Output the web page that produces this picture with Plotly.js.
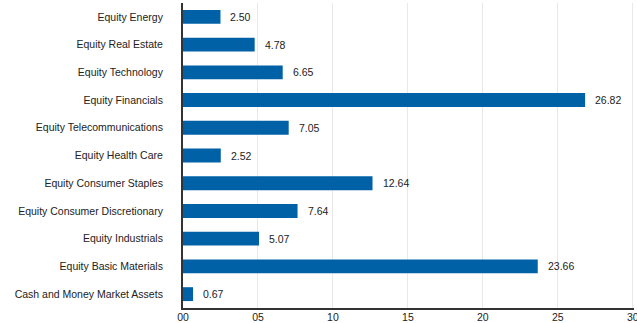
<!DOCTYPE html>
<html>
<head>
<meta charset="utf-8">
<script src="https://cdn.plot.ly/plotly-3.0.1.min.js"></script>
<style>html,body{margin:0;padding:0;background:#fff;}#chart{width:637px;height:323px;}</style>
</head>
<body>
<div id="chart"></div>
<script>
var categories = [
  "Equity Energy",
  "Equity Real Estate",
  "Equity Technology",
  "Equity Financials",
  "Equity Telecommunications",
  "Equity Health Care",
  "Equity Consumer Staples",
  "Equity Consumer Discretionary",
  "Equity Industrials",
  "Equity Basic Materials",
  "Cash and Money Market Assets"
];
var values = [2.50, 4.78, 6.65, 26.82, 7.05, 2.52, 12.64, 7.64, 5.07, 23.66, 0.67];
var tickValues = [0, 5, 10, 15, 20, 25, 30];
var tickLabels = ["00", "05", "10", "15", "20", "25", "30"];

var font = {family: "Liberation Sans, Arial, sans-serif", size: 10.5, color: "#222"};

var trace = {
  type: "bar",
  orientation: "h",
  x: values,
  y: categories,
  marker: {color: "#0061A7"},
  hoverinfo: "none"
};

var annotations = values.map(function (v, i) {
  return {
    x: v, y: categories[i], xref: "x", yref: "y",
    text: v.toFixed(2), showarrow: false,
    xanchor: "left", xshift: 8,
    font: font
  };
});

var layout = {
  width: 637, height: 323,
  margin: {l: 183, r: 3, t: 3, b: 15, pad: 0},
  paper_bgcolor: "#fff", plot_bgcolor: "#fff",
  bargap: 0.5,
  showlegend: false,
  font: font,
  xaxis: {
    range: [0, 30.08],
    tickvals: tickValues, ticktext: tickLabels,
    showgrid: true, gridcolor: "#e8e8e8", gridwidth: 1,
    zeroline: false,
    showline: true, linecolor: "#333", linewidth: 2,
    ticks: "", tickfont: font,
    ticklabelstandoff: -2,
    ticklabeloverflow: "allow",
    automargin: false,
    fixedrange: true
  },
  yaxis: {
    categoryorder: "array", categoryarray: categories,
    autorange: "reversed",
    showgrid: false, zeroline: false,
    showline: true, linecolor: "#333", linewidth: 2,
    ticks: "", tickfont: font,
    ticklabelstandoff: 16,
    automargin: false,
    fixedrange: true
  },
  annotations: annotations
};

Plotly.newPlot("chart", [trace], layout, {displayModeBar: false, staticPlot: true});
</script>
</body>
</html>
